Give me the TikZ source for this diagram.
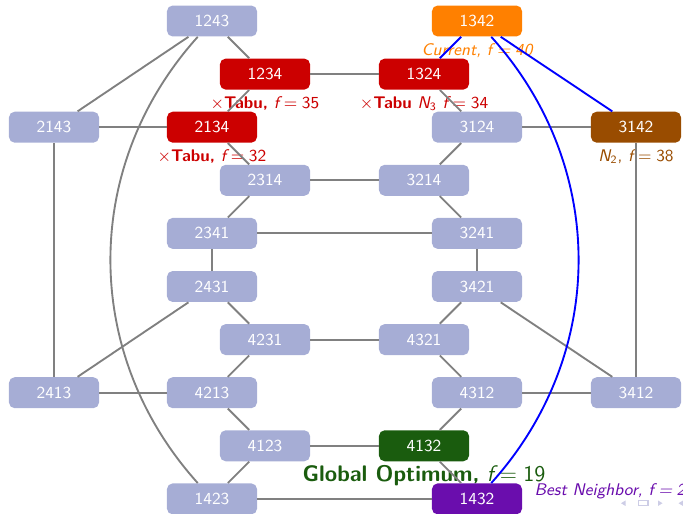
\documentclass[tikz,border=0pt]{standalone}
\usepackage{fontspec}
\renewcommand{\familydefault}{\sfdefault}
\definecolor{nodeblue}{RGB}{166,173,213}
\definecolor{tabured}{RGB}{204,0,0}
\definecolor{curorange}{RGB}{255,128,0}
\definecolor{nbrown}{RGB}{153,76,0}
\definecolor{ngreen}{RGB}{26,92,14}
\definecolor{npurple}{RGB}{106,13,173}
\definecolor{edgegray}{RGB}{128,128,128}
\definecolor{navc}{RGB}{205,205,230}
\newcommand{\eqsp}{\hspace{0.2777em}=\hspace{0.2777em}}
\newcommand{\ff}{{\itshape f}}
\begin{document}
\begin{tikzpicture}[x=0.5332pt,y=-0.5332pt,
  font=\sffamily\fontsize{9}{11}\selectfont,
  st/.style={rectangle, rounded corners=3pt, minimum width=48pt, minimum height=16.5pt,
    inner sep=0pt, fill=nodeblue, text=white},
  ed/.style={draw=edgegray, line width=1pt},
  bl/.style={draw=blue, line width=1pt}]
\useasboundingbox (0,0) rectangle (683,514);
% nodes
\node[st] (n1243) at (212,21) {1243};
\node[st, fill=curorange, label={[text=curorange]below:{\itshape Current, f\eqsp 40}}] (n1342) at (477,21) {1342};
\node[st, fill=tabured, label={[text=tabured]below:{$\times$\textbf{Tabu,} \ff\eqsp 35}}] (n1234) at (265,74.1) {1234};
\node[st, fill=tabured, label={[text=tabured]below:{$\times$\textbf{Tabu} {\itshape N}$_{\mathsf{3}}$ \ff\eqsp 34}}] (n1324) at (424,74.1) {1324};
\node[st] (n2143) at (54,127.2) {2143};
\node[st, fill=tabured, label={[text=tabured]below:{$\times$\textbf{Tabu,} \ff\eqsp 32}}] (n2134) at (212,127.2) {2134};
\node[st] (n3124) at (477,127.2) {3124};
\node[st, fill=nbrown, label={[text=nbrown]below:{{\itshape N}$_{\mathsf{2}}$, \ff\eqsp 38}}] (n3142) at (636,127.2) {3142};
\node[st] (n2314) at (265,180.3) {2314};
\node[st] (n3214) at (424,180.3) {3214};
\node[st] (n2341) at (212,233.4) {2341};
\node[st] (n3241) at (477,233.4) {3241};
\node[st] (n2431) at (212,286.5) {2431};
\node[st] (n3421) at (477,286.5) {3421};
\node[st] (n4231) at (265,339.6) {4231};
\node[st] (n4321) at (424,339.6) {4321};
\node[st] (n2413) at (54,392.7) {2413};
\node[st] (n4213) at (212,392.7) {4213};
\node[st] (n4312) at (477,392.7) {4312};
\node[st] (n3412) at (636,392.7) {3412};
\node[st] (n4123) at (265,445.8) {4123};
\node[st, fill=ngreen, label={[text=ngreen, inner sep=2pt, font=\sffamily\fontsize{12}{14}\selectfont]below:{\textbf{Global Optimum,} \ff\eqsp 19}}] (n4132) at (424,445.8) {4132};
\node[st] (n1423) at (212,498.9) {1423};
\node[st, fill=npurple, label={[text=npurple, label distance=3pt, yshift=4pt]right:{\itshape Best Neighbor, f\eqsp 2}}] (n1432) at (477,498.9) {1432};
% gray edges
\draw[ed] (n1243) -- (n1234);
\draw[ed] (n1243) -- (n2143);
\draw[ed] (n1243) to[bend right=42] (n1423);
\draw[ed] (n1234) -- (n1324);
\draw[ed] (n1234) -- (n2134);
\draw[ed] (n2143) -- (n2134);
\draw[ed] (n2143) -- (n2413);
\draw[ed] (n2134) -- (n2314);
\draw[ed] (n2314) -- (n3214);
\draw[ed] (n2314) -- (n2341);
\draw[ed] (n2341) -- (n3241);
\draw[ed] (n2341) -- (n2431);
\draw[ed] (n2431) -- (n2413);
\draw[ed] (n2431) -- (n4231);
\draw[ed] (n4231) -- (n4321);
\draw[ed] (n4231) -- (n4213);
\draw[ed] (n2413) -- (n4213);
\draw[ed] (n4213) -- (n4123);
\draw[ed] (n4123) -- (n4132);
\draw[ed] (n4123) -- (n1423);
\draw[ed] (n1423) -- (n1432);
\draw[ed] (n4132) -- (n1432);
\draw[ed] (n4132) -- (n4312);
\draw[ed] (n4312) -- (n4321);
\draw[ed] (n4312) -- (n3412);
\draw[ed] (n3412) -- (n3421);
\draw[ed] (n3412) -- (n3142);
\draw[ed] (n3421) -- (n3241);
\draw[ed] (n3421) -- (n4321);
\draw[ed] (n3241) -- (n3214);
\draw[ed] (n3214) -- (n3124);
\draw[ed] (n3124) -- (n3142);
\draw[ed] (n3124) -- (n1324);
% blue edges
\draw[bl] (n1342) -- (n1324);
\draw[bl] (n1342) -- (n3142);
\draw[bl] (n1342) to[bend left=42] (n1432);
% navigation symbols
\fill[navc] (625.5,500.5) -- (625.5,506) -- (621,503.2) -- cycle;
\draw[navc, line width=0.7pt] (638.5,500.8) rectangle (648,505.6);
\fill[navc] (658,500.5) -- (658,506) -- (662.5,503.2) -- cycle;
\fill[navc] (683,500.5) -- (683,506) -- (678.5,503.2) -- cycle;
\end{tikzpicture}
\end{document}
